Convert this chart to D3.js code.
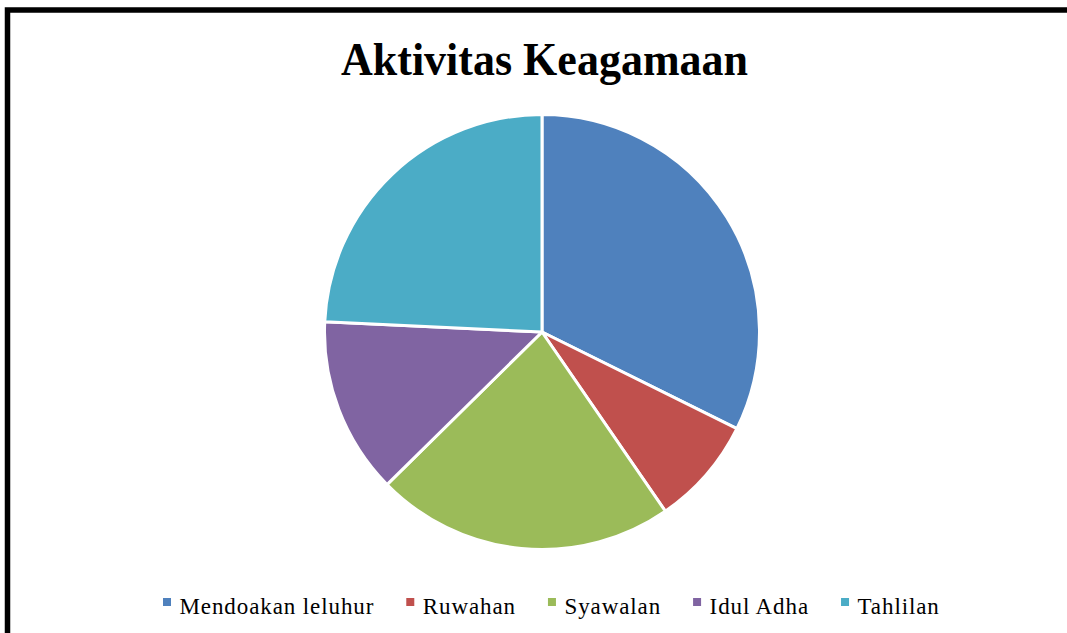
<!DOCTYPE html>
<html>
<head>
<meta charset="utf-8">
<script src="https://cdn.jsdelivr.net/npm/d3@7"></script>
<style>
  body { margin: 0; background: #fff; }
  svg { display: block; }
</style>
</head>
<body>
<svg width="1067" height="633"></svg>
<script>
const categories = ['Mendoakan leluhur', 'Ruwahan', 'Syawalan', 'Idul Adha', 'Tahlilan'];
const values = [32, 8, 22, 13, 24];
const colors = ['#4F81BD', '#C0504D', '#9BBB59', '#8064A2', '#4BACC6'];
const title = 'Aktivitas Keagamaan';

const svg = d3.select('svg');
const width = +svg.attr('width');
const height = +svg.attr('height');

const data = categories.map((c, i) => ({ name: c, value: values[i] }));

// frame
svg.append('rect')
    .attr('x', 7.5)
    .attr('y', 10)
    .attr('width', width + 20)
    .attr('height', height + 20)
    .attr('fill', '#fff')
    .attr('stroke', '#000')
    .attr('stroke-width', 5.5);

// title
svg.append('text')
    .attr('x', 341)
    .attr('y', 75)
    .attr('textLength', 407)
    .attr('lengthAdjust', 'spacingAndGlyphs')
    .attr('font-family', '"Liberation Serif", "Times New Roman", serif')
    .attr('font-weight', 'bold')
    .attr('font-size', 46)
    .attr('fill', '#000')
    .text(title);

// PIE
const cx = 542;
const cy = 332;
const radius = 217.5;

const color = d3.scaleOrdinal().domain(categories).range(colors);
const pie = d3.pie().value(d => d.value).sort(null);
const arc = d3.arc().innerRadius(0).outerRadius(radius);

const g = svg.append('g')
    .attr('transform', `translate(${cx}, ${cy})`);

g.selectAll('path')
    .data(pie(data))
    .enter()
    .append('path')
        .attr('d', arc)
        .attr('fill', d => color(d.data.name))
        .attr('stroke', '#fff')
        .attr('stroke-width', 3)
        .attr('stroke-linejoin', 'round');

// LEGEND
const legend = svg.append('g')
    .attr('font-family', '"Liberation Serif", "Times New Roman", serif')
    .attr('font-size', 23)
    .attr('letter-spacing', 0.9);

let x = 163;
const markerSize = 8;
const textGap = 16.5;
const itemGap = 32;
categories.forEach(name => {
    const item = legend.append('g');
    item.append('rect')
        .attr('x', x)
        .attr('y', 598)
        .attr('width', markerSize)
        .attr('height', markerSize)
        .attr('fill', color(name));
    const t = item.append('text')
        .attr('x', x + textGap)
        .attr('y', 614)
        .attr('fill', '#000')
        .text(name);
    const w = t.node().getComputedTextLength();
    x += textGap + w + itemGap;
});
</script>
</body>
</html>
